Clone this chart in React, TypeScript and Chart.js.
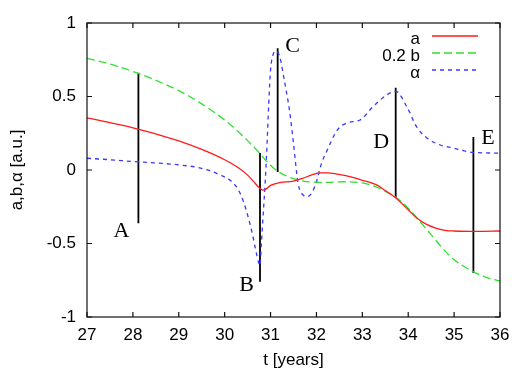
import { useEffect, useRef } from "react";
import { Chart, registerables } from "chart.js";

Chart.register(...registerables);

// ---- data ----
const seriesNames = ["a", "0.2 b", "α"];

const aT = [27.0, 27.5, 28.0, 28.5, 29.0, 29.5, 30.0, 30.3, 30.5, 30.65, 30.75, 30.83, 30.9, 31.0, 31.2, 31.5, 31.7, 31.9, 32.08, 32.25, 32.45, 32.73, 33.0, 33.3, 33.5, 33.73, 34.0, 34.2, 34.4, 34.6, 34.8, 35.0, 35.5, 36.0];
const aV = [0.355, 0.322, 0.287, 0.245, 0.198, 0.14, 0.07, 0.015, -0.035, -0.085, -0.12, -0.137, -0.13, -0.105, -0.086, -0.076, -0.057, -0.033, -0.02, -0.019, -0.028, -0.045, -0.07, -0.1, -0.14, -0.19, -0.27, -0.33, -0.37, -0.395, -0.41, -0.415, -0.418, -0.415];

const bT = [27.0, 27.5, 28.0, 28.5, 29.0, 29.5, 30.0, 30.3, 30.5, 30.73, 30.99, 31.17, 31.42, 31.71, 32.15, 32.66, 33.0, 33.3, 33.5, 33.73, 34.0, 34.2, 34.5, 34.8, 35.0, 35.4, 35.7, 36.0];
const bV = [0.76, 0.72, 0.67, 0.61, 0.54, 0.45, 0.34, 0.26, 0.2, 0.125, 0.034, -0.011, -0.05, -0.075, -0.084, -0.08, -0.088, -0.115, -0.145, -0.185, -0.26, -0.33, -0.44, -0.55, -0.61, -0.69, -0.73, -0.755];

const alphaT = [27.0, 27.5, 28.0, 28.5, 29.0, 29.4, 29.68, 29.9, 30.12, 30.3, 30.41, 30.51, 30.6, 30.68, 30.74, 30.77, 30.8, 30.84, 30.88, 30.92, 30.96, 31.0, 31.05, 31.12, 31.2, 31.3, 31.42, 31.5, 31.6, 31.71, 31.8, 31.9, 32.0, 32.11, 32.22, 32.45, 32.66, 32.95, 33.23, 33.53, 33.73, 33.97, 34.19, 34.4, 34.7, 34.98, 35.4, 36.0];
const alphaV = [0.08, 0.07, 0.058, 0.048, 0.035, 0.018, -0.005, -0.034, -0.07, -0.136, -0.215, -0.318, -0.43, -0.55, -0.63, -0.65, -0.5, -0.3, -0.1, 0.15, 0.45, 0.68, 0.78, 0.81, 0.77, 0.61, 0.39, 0.18, -0.09, -0.17, -0.18, -0.155, -0.08, 0.045, 0.125, 0.27, 0.32, 0.34, 0.43, 0.51, 0.535, 0.43, 0.29, 0.22, 0.17, 0.15, 0.12, 0.115];

// event markers
const markerLabels = ["A", "B", "C", "D", "E"];
const markerT = [28.12, 30.77, 31.155, 33.727, 35.42];
const markerTop = [0.662, 0.115, 0.828, 0.56, 0.225];
const markerBottom = [-0.363, -0.76, -0.013, -0.19, -0.7];
const labelT = [27.75, 30.48, 31.48, 33.41, 35.74];
const labelV = [-0.405, -0.77, 0.855, 0.2, 0.225];

const xTickValues = [27, 28, 29, 30, 31, 32, 33, 34, 35, 36];
const yTickValues = [-1, -0.5, 0, 0.5, 1];
const xTitle = "t [years]";
const yTitle = "a,b,α [a.u.]";

const colors = ["#ff1a1a", "#2ee02e", "#3838ff"];
const dashes = [[], [8, 4], [4, 4]];
const SANS = "'Liberation Sans', Arial, Helvetica, sans-serif";
const SERIF = "'Liberation Serif', 'Times New Roman', serif";

export default function App() {
  const ref = useRef<HTMLCanvasElement>(null);

  useEffect(() => {
    const canvas = ref.current;
    if (!canvas) return;
    const pts = (t: number[], v: number[]) => t.map((x, i) => ({ x, y: v[i] }));
    const seriesData = [pts(aT, aV), pts(bT, bV), pts(alphaT, alphaV)];

    const datasets: any[] = seriesData.map((d, i) => ({
      label: seriesNames[i],
      data: d,
      borderColor: colors[i],
      borderWidth: 1.3,
      borderDash: dashes[i],
      pointRadius: 0,
      fill: false,
      cubicInterpolationMode: "monotone",
    }));
    markerT.forEach((t, i) => {
      datasets.push({
        label: "marker " + markerLabels[i],
        data: [
          { x: t, y: markerTop[i] },
          { x: t, y: markerBottom[i] },
        ],
        borderColor: "#000",
        borderWidth: 1.8,
        pointRadius: 0,
        fill: false,
      });
    });

    const decor = {
      id: "decor",
      afterDraw(chart: any) {
        const { ctx, chartArea, scales } = chart;
        const { left, right, top, bottom } = chartArea;
        const xs = scales.x;
        const ys = scales.y;
        ctx.save();
        // frame
        ctx.strokeStyle = "#111";
        ctx.lineWidth = 1.2;
        ctx.setLineDash([]);
        ctx.strokeRect(left, top, right - left, bottom - top);
        // inward ticks
        ctx.beginPath();
        xTickValues.forEach((v) => {
          const px = xs.getPixelForValue(v);
          ctx.moveTo(px, bottom);
          ctx.lineTo(px, bottom - 5);
          ctx.moveTo(px, top);
          ctx.lineTo(px, top + 5);
        });
        yTickValues.forEach((v) => {
          const py = ys.getPixelForValue(v);
          ctx.moveTo(left, py);
          ctx.lineTo(left + 5, py);
          ctx.moveTo(right, py);
          ctx.lineTo(right - 5, py);
        });
        ctx.stroke();

        // marker letters
        ctx.fillStyle = "#000";
        ctx.font = `22px ${SERIF}`;
        ctx.textAlign = "center";
        ctx.textBaseline = "alphabetic";
        markerLabels.forEach((lab, i) => {
          const px = xs.getPixelForValue(labelT[i]);
          const py = ys.getPixelForValue(labelV[i]);
          ctx.fillText(lab, px, py + 7.5);
        });

        // legend
        ctx.font = `17px ${SANS}`;
        ctx.textAlign = "right";
        seriesNames.forEach((name, i) => {
          const base = 43.5 + 17 * i;
          ctx.fillStyle = "#000";
          ctx.fillText(name, 420, base);
          ctx.beginPath();
          ctx.strokeStyle = colors[i];
          ctx.lineWidth = 1.3;
          ctx.setLineDash(dashes[i]);
          ctx.moveTo(432, base - 7.5);
          ctx.lineTo(478, base - 7.5);
          ctx.stroke();
        });
        ctx.restore();
      },
    };

    const tickFont = { family: SANS, size: 17 };
    const chart = new Chart(canvas, {
      type: "line",
      data: { datasets },
      options: {
        animation: false,
        responsive: false,
        maintainAspectRatio: false,
        layout: { padding: { top: 23, right: 32, left: 0, bottom: 0 } },
        plugins: { legend: { display: false }, tooltip: { enabled: false } },
        scales: {
          x: {
            type: "linear",
            min: 27,
            max: 36,
            afterBuildTicks: (s: any) => {
              s.ticks = xTickValues.map((v) => ({ value: v }));
            },
            afterFit: (s: any) => {
              s.height = 57;
            },
            grid: { display: false, drawTicks: false },
            border: { display: false },
            ticks: {
              padding: 8,
              color: "#000",
              font: tickFont,
              maxRotation: 0,
              autoSkip: false,
              callback: (v: any) => String(v),
            },
            title: {
              display: true,
              text: xTitle,
              color: "#000",
              font: tickFont,
              padding: { top: 0, bottom: 3 },
            },
          },
          y: {
            type: "linear",
            min: -1,
            max: 1,
            afterBuildTicks: (s: any) => {
              s.ticks = yTickValues.map((v) => ({ value: v }));
            },
            afterFit: (s: any) => {
              s.width = 87;
            },
            grid: { display: false, drawTicks: false },
            border: { display: false },
            ticks: {
              padding: 11,
              color: "#000",
              font: tickFont,
              autoSkip: false,
              callback: (v: any) => String(v),
            },
            title: {
              display: true,
              text: yTitle,
              color: "#000",
              font: tickFont,
              padding: { top: 7, bottom: 0 },
            },
          },
        },
      } as any,
      plugins: [decor],
    });
    return () => chart.destroy();
  }, []);

  return (
    <div style={{ position: "fixed", left: 0, top: 0, width: 532, height: 374, background: "#fff" }}>
      <canvas ref={ref} width={532} height={374} style={{ display: "block" }} />
    </div>
  );
}
